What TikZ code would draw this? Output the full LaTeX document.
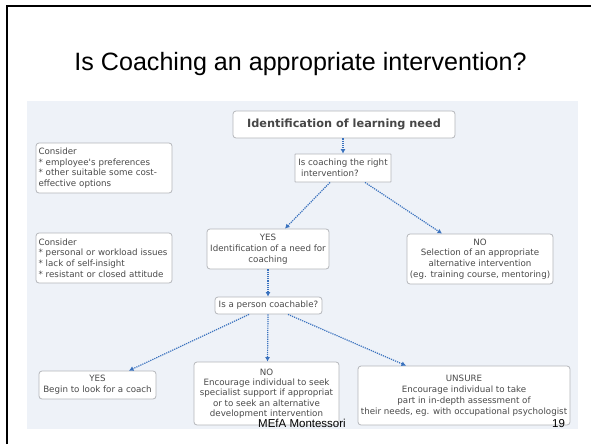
\documentclass[tikz,border=0pt]{standalone}
\usepackage{fontspec}
\usetikzlibrary{arrows.meta,calc}
\newfontfamily\slidefont{Liberation Sans}
\newfontfamily\mapfont{DejaVu Sans}
\definecolor{panelbg}{HTML}{EEF2F8}
\definecolor{boxline}{HTML}{B4B6BA}
\definecolor{boxtext}{HTML}{4A4A4A}
\definecolor{arrowblue}{HTML}{3A72BE}
\tikzset{
  mapbox/.style={draw=boxline, line width=0.8pt, fill=white, rounded corners=3pt,
    inner sep=2pt, text=boxtext, font=\mapfont\fontsize{8.7}{10.8}\selectfont},
  plainbox/.style={mapbox, rounded corners=0.5pt},
  arr/.style={draw=arrowblue, line width=1.2pt, densely dotted,
    -{Latex[length=4.5pt,width=5pt]}},
}
\begin{document}
\begin{tikzpicture}[x=1pt,y=-1pt]
\useasboundingbox (0,0) rectangle (591,444);
% slide frame
\draw[line width=2pt] (7,444) -- (7,6) -- (591,6);
% slide title
\node[font=\slidefont\fontsize{25.1}{29}\selectfont] (title) at (300.5,64) {Is Coaching an appropriate intervention?};
% mind-map background panel
\fill[panelbg] (27,101) rectangle (578,429);
% boxes
\node[mapbox, minimum width=222pt, minimum height=27pt,
  font=\mapfont\bfseries\fontsize{11.3}{13}\selectfont, text=black!72] (ident) at (344,124.5)
  {Identification of learning need};
\node[plainbox, minimum width=96pt, minimum height=28pt, align=left] (rightq) at (343,168)
  {Is coaching the right\\\ intervention?};
\node[mapbox, minimum width=136pt, minimum height=50pt, text width=131pt, align=left] (cons1) at (104,168)
  {Consider\\{}* employee's preferences\\{}* other suitable some cost-\\effective options};
\node[mapbox, minimum width=136pt, minimum height=50pt, text width=131pt, align=left] (cons2) at (104,258)
  {Consider\\{}* personal or workload issues\\{}* lack of self-insight\\{}* resistant or closed attitude};
\node[mapbox, minimum width=122pt, minimum height=40pt, align=center] (yesid) at (268,249)
  {YES\\Identification of a need for\\coaching};
\node[mapbox, minimum width=146pt, minimum height=50pt, align=center] (noalt) at (480,259)
  {NO\\Selection of an appropriate\\alternative intervention\\(eg. training course, mentoring)};
\node[mapbox, minimum width=107pt, minimum height=17pt, inner sep=1pt] (coachable) at (268.5,305.5)
  {Is a person coachable?};
\node[mapbox, minimum width=117pt, minimum height=28pt, align=center] (yesbegin) at (97.5,385)
  {YES\\Begin to look for a coach};
\node[mapbox, minimum width=145pt, minimum height=63pt, align=center, inner sep=1pt,
  font=\mapfont\fontsize{8.7}{10.4}\selectfont] (noenc) at (266.5,393.5)
  {NO\\Encourage individual to seek\\specialist support if appropriat\\or to seek an alternative\\development intervention};
\node[mapbox, minimum width=212pt, minimum height=59pt, align=center] (unsure) at (464,395.5)
  {UNSURE\\Encourage individual to take\\part in in-depth assessment of\\their needs, eg. with occupational psychologist};
% connectors
\draw[arr] ([xshift=-1pt]ident.south) -- (rightq.north);
\draw[arr] ([xshift=-13pt]rightq.south) -- ([xshift=17pt]yesid.north);
\draw[arr] ([xshift=22pt]rightq.south) -- ([xshift=-38pt]noalt.north);
\draw[arr] (yesid.south) -- ([xshift=-0.5pt]coachable.north);
\draw[arr] ([xshift=-19.5pt]coachable.south) -- ([xshift=31.5pt]yesbegin.north);
\draw[arr] ([xshift=-0.5pt]coachable.south) -- ([xshift=1pt]noenc.north);
\draw[arr] ([xshift=19.5pt]coachable.south) -- ([xshift=-58pt]unsure.north);
% footer
\node[font=\slidefont\fontsize{11.5}{13}\selectfont, anchor=base] (footer) at (302,427) {MEfA Montessori};
\node[font=\slidefont\fontsize{11.5}{13}\selectfont, anchor=base] (pagenum) at (558.5,427) {19};
\end{tikzpicture}
\end{document}
